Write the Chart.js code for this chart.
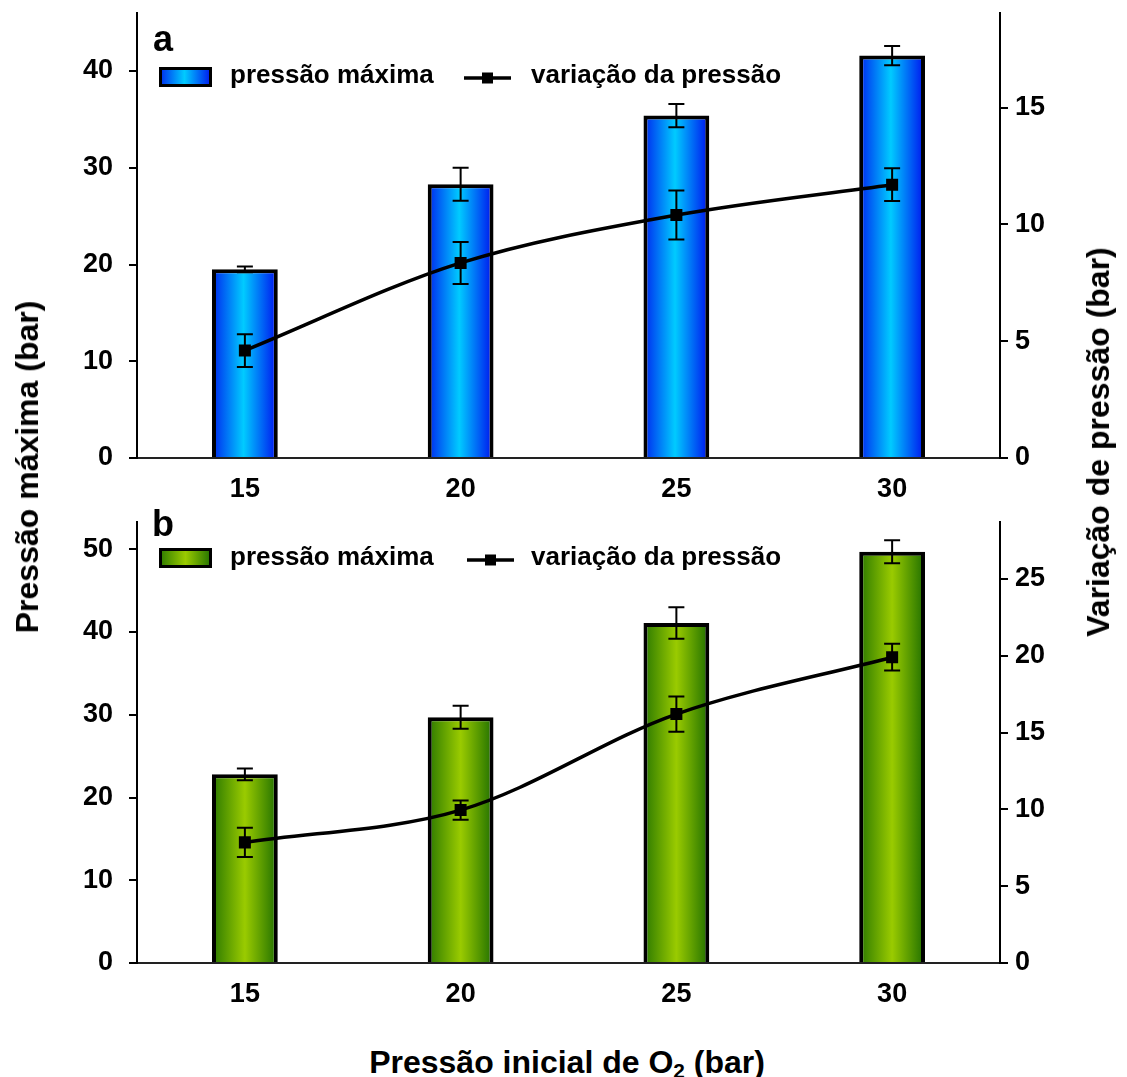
<!DOCTYPE html>
<html>
<head>
<meta charset="utf-8">
<script src="https://cdn.jsdelivr.net/npm/chart.js@4.4.1/dist/chart.umd.min.js"></script>
<style>
  html, body { margin: 0; padding: 0; background: #fff; }
  body { width: 1127px; height: 1077px; position: relative; overflow: hidden; font-family: "Liberation Sans", Arial, sans-serif; }
  .wrap { position: absolute; left: 0; width: 1127px; }
  #wrapA { top: 0; height: 510px; }
  #wrapB { top: 500px; height: 540px; }
  .title { position: absolute; font-weight: bold; font-size: 32px; line-height: 1; white-space: nowrap; color: #000;
           transform: translate(-50%, -50%) rotate(-90deg); }
  #xTitle { transform: translate(-50%, -50%); }
  #yLeft { left: 27px; top: 467px; }
  #yRight { left: 1098px; top: 442px; }
  #xTitle { left: 567px; top: 1062px; }
  sub { font-size: 0.65em; vertical-align: -0.25em; line-height: 0; }
</style>
</head>
<body>
<div class="wrap" id="wrapA"><canvas id="chartA"></canvas></div>
<div class="wrap" id="wrapB"><canvas id="chartB"></canvas></div>
<div class="title" id="yLeft">Pressão máxima (bar)</div>
<div class="title" id="yRight">Variação de pressão (bar)</div>
<div class="title" id="xTitle">Pressão inicial de O<sub>2</sub> (bar)</div>
<script>
// ---------- data ----------
const categories = ['15', '20', '25', '30'];
const seriesLabels = ['pressão máxima', 'variação da pressão'];

// panel a
const maxPressureA = [19.5, 28.3, 35.4, 41.6];
const maxPressureErrA = [0.3, 1.7, 1.2, 1.0];
const variationA = [4.6, 8.35, 10.4, 11.7];
const variationErrA = [0.7, 0.9, 1.05, 0.7];

// panel b
const maxPressureB = [22.8, 29.7, 41.1, 49.7];
const maxPressureErrB = [0.7, 1.4, 1.9, 1.4];
const variationB = [7.85, 9.95, 16.2, 19.9];
const variationErrB = [0.95, 0.62, 1.15, 0.87];

// axis ranges / tick steps
const leftMaxA = 46, rightMaxA = 19.05;
const leftMaxB = 53.3, rightMaxB = 28.7;
const leftStep = 10, rightStep = 5;
const panelLetters = ['a', 'b'];

// ---------- styling ----------
const FONT = "'Liberation Sans', Arial, sans-serif";
Chart.defaults.font.family = FONT;
Chart.defaults.color = '#000';

const blueStops = [[0, '#0026ee'], [0.48, '#00cbff'], [1, '#0010ee']];
const greenStops = [[0, '#2a7800'], [0.5, '#9acb00'], [1, '#1f6f00']];

const errorBarPlugin = {
  id: 'errorBars',
  afterDatasetDraw(chart, args) {
    const ds = chart.data.datasets[args.index];
    if (!ds.errors) return;
    const meta = args.meta;
    const yScale = chart.scales[meta.yAxisID];
    const ctx = chart.ctx;
    ctx.save();
    ctx.strokeStyle = '#000';
    ctx.lineWidth = 2;
    meta.data.forEach((el, i) => {
      const v = ds.data[i], e = ds.errors[i];
      const yt = yScale.getPixelForValue(v + e);
      const yb = yScale.getPixelForValue(v - e);
      const x = el.x, cw = 8;
      ctx.beginPath();
      ctx.moveTo(x, yt); ctx.lineTo(x, yb);
      ctx.moveTo(x - cw, yt); ctx.lineTo(x + cw, yt);
      ctx.moveTo(x - cw, yb); ctx.lineTo(x + cw, yb);
      ctx.stroke();
    });
    ctx.restore();
  }
};

const gradientPlugin = {
  id: 'barGradient',
  beforeDatasetDraw(chart, args) {
    const ds = chart.data.datasets[args.index];
    if (!ds.gradientStops) return;
    args.meta.data.forEach(el => {
      const g = chart.ctx.createLinearGradient(el.x - el.width / 2, 0, el.x + el.width / 2, 0);
      ds.gradientStops.forEach(([o, c]) => g.addColorStop(o, c));
      el.options = Object.assign({}, el.options, { backgroundColor: g });
    });
  }
};

const legendPlugin = {
  id: 'panelLegend',
  afterDraw(chart) {
    const o = chart.options.plugins.panelLegend;
    const ctx = chart.ctx;
    const ds = chart.data.datasets;
    ctx.save();
    ctx.fillStyle = '#000';
    ctx.textAlign = 'left';
    ctx.textBaseline = 'alphabetic';
    ctx.font = `bold 36px ${FONT}`;
    ctx.fillText(o.letter, o.letterX, o.letterY);
    // bar swatch
    const bx = 159, bw = 53, by = o.boxY, bh = 20;
    const g = ctx.createLinearGradient(bx, 0, bx + bw, 0);
    ds[0].gradientStops.forEach(([p, c]) => g.addColorStop(p, c));
    ctx.fillStyle = g;
    ctx.fillRect(bx, by, bw, bh);
    ctx.lineWidth = 3;
    ctx.strokeStyle = '#000';
    ctx.strokeRect(bx + 1.5, by + 1.5, bw - 3, bh - 3);
    ctx.fillStyle = '#000';
    ctx.font = `bold 26px ${FONT}`;
    ctx.fillText(ds[0].label, 230, o.textY);
    // line swatch
    ctx.lineWidth = 3.5;
    ctx.beginPath();
    ctx.moveTo(o.lineX0, o.lineY);
    ctx.lineTo(o.lineX0 + 47, o.lineY);
    ctx.stroke();
    ctx.fillRect(o.lineX0 + 23.5 - 5.5, o.lineY - 5.5, 11, 11);
    ctx.fillText(ds[1].label, 531, o.textY);
    ctx.restore();
  }
};

function makeChart(id, bars, barErr, line, lineErr, leftMax, rightMax, stops, padTop, xHeight, legendOpts) {
  const tickFont = { family: FONT, size: 27, weight: 'bold' };
  return new Chart(document.getElementById(id), {
    type: 'bar',
    data: {
      labels: categories,
      datasets: [
        {
          type: 'bar',
          label: seriesLabels[0],
          data: bars,
          errors: barErr,
          gradientStops: stops,
          backgroundColor: stops[1][1],
          borderColor: '#000',
          borderWidth: 4,
          borderSkipped: 'start',
          barPercentage: 0.305,
          categoryPercentage: 1,
          yAxisID: 'y',
          order: 1
        },
        {
          type: 'line',
          label: seriesLabels[1],
          data: line,
          errors: lineErr,
          borderColor: '#000',
          borderWidth: 3.5,
          tension: 0.33,
          pointStyle: 'rect',
          pointRadius: 8.5,
          pointBackgroundColor: '#000',
          pointBorderColor: '#000',
          pointBorderWidth: 0,
          fill: false,
          yAxisID: 'y1',
          order: 0
        }
      ]
    },
    options: {
      responsive: true,
      maintainAspectRatio: false,
      animation: false,
      devicePixelRatio: 1,
      layout: { padding: { top: padTop, left: 0, right: 0, bottom: 0 } },
      plugins: {
        legend: { display: false },
        tooltip: { enabled: false },
        panelLegend: legendOpts
      },
      scales: {
        x: {
          type: 'category',
          offset: true,
          grid: { display: false, drawTicks: false },
          border: { display: true, color: '#222', width: 2 },
          ticks: { color: '#000', font: tickFont, padding: 15, maxRotation: 0, autoSkip: false },
          afterFit: s => { s.height = xHeight; s.paddingLeft = 0; s.paddingRight = 0; }
        },
        y: {
          position: 'left',
          min: 0,
          max: leftMax,
          ticks: { stepSize: leftStep, includeBounds: false, color: '#000', font: tickFont, padding: 16 },
          grid: { drawOnChartArea: false, drawTicks: true, tickLength: 8, color: '#000', lineWidth: 2 },
          border: { display: true, color: '#000', width: 2 },
          afterFit: s => { s.width = 137; s.paddingTop = 0; s.paddingBottom = 0; }
        },
        y1: {
          position: 'right',
          min: 0,
          max: rightMax,
          ticks: { stepSize: rightStep, includeBounds: false, color: '#000', font: tickFont, padding: 7 },
          grid: { drawOnChartArea: false, drawTicks: true, tickLength: 8, color: '#000', lineWidth: 2 },
          border: { display: true, color: '#000', width: 2 },
          afterFit: s => { s.width = 127; s.paddingTop = 0; s.paddingBottom = 0; }
        }
      }
    },
    plugins: [gradientPlugin, errorBarPlugin, legendPlugin]
  });
}

makeChart('chartA', maxPressureA, maxPressureErrA, variationA, variationErrA,
  leftMaxA, rightMaxA, blueStops, 13, 52,
  { letter: panelLetters[0], letterX: 153, letterY: 51, boxY: 67, textY: 83, lineX0: 464, lineY: 78 });

makeChart('chartB', maxPressureB, maxPressureErrB, variationB, variationErrB,
  leftMaxB, rightMaxB, greenStops, 22, 77,
  { letter: panelLetters[1], letterX: 152, letterY: 36, boxY: 48, textY: 65, lineX0: 467, lineY: 60 });
</script>
</body>
</html>
